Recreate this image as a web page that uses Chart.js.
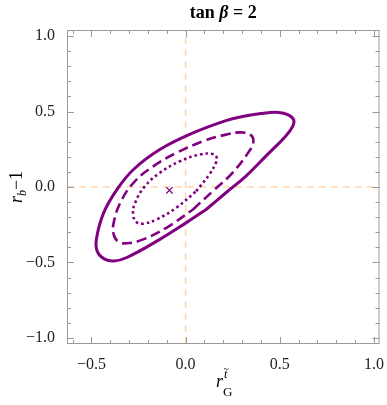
<!DOCTYPE html>
<html><head><meta charset="utf-8">
<script src="https://cdn.jsdelivr.net/npm/chart.js@4.4.0/dist/chart.umd.min.js"></script>
<style>html,body{margin:0;padding:0;background:#fff;overflow:hidden}#wrap{width:387px;height:405px}</style>
</head><body><div id="wrap"><canvas id="c" width="387" height="405"></canvas></div>
<script>
// ---- data ----
const xTickLabels = [-0.5, 0.0, 0.5, 1.0];
const yTickLabels = [-1.0, -0.5, 0.0, 0.5, 1.0];

// outer contour (solid)
const outerX = [0.109, 0.214, 0.319, 0.425, 0.530, 0.568, 0.574, 0.545, 0.495, 0.400, 0.302, 0.214, 0.039, -0.137, -0.277, -0.365, -0.435, -0.474, -0.468, -0.430, -0.380, -0.312, -0.137, 0.004, 0.109];
const outerY = [-0.149, -0.038, 0.071, 0.203, 0.335, 0.400, 0.445, 0.478, 0.494, 0.487, 0.467, 0.440, 0.358, 0.248, 0.116, -0.017, -0.170, -0.347, -0.430, -0.478, -0.490, -0.467, -0.347, -0.236, -0.149];

// middle contour (dashed)
const midX = [0.039, 0.144, 0.249, 0.337, 0.360, 0.345, 0.293, 0.214, 0.091, -0.049, -0.172, -0.277, -0.347, -0.382, -0.383, -0.360, -0.312, -0.225, -0.102, 0.039];
const midY = [-0.149, -0.028, 0.094, 0.236, 0.300, 0.345, 0.362, 0.347, 0.302, 0.226, 0.137, 0.028, -0.104, -0.236, -0.310, -0.360, -0.373, -0.347, -0.270, -0.149];

// inner contour (dotted)
const innerX = [0.056, 0.126, 0.161, 0.165, 0.144, 0.074, -0.032, -0.137, -0.216, -0.268, -0.279, -0.262, -0.225, -0.154, -0.049, 0.056];
const innerY = [-0.028, 0.083, 0.160, 0.195, 0.219, 0.215, 0.170, 0.094, 0.005, -0.104, -0.180, -0.232, -0.243, -0.215, -0.137, -0.028];

// best-fit point
const bestX = [-0.086];
const bestY = [-0.022];

// reference lines
const vLineX = [0, 0];
const vLineY = [-1.04, 1.04];
const hLineX = [-0.63, 1.03];
const hLineY = [0, 0];

const xRange = [-0.63, 1.03];
const yRange = [-1.04, 1.04];

// ---- build ----
const pts = (xs, ys) => xs.map((x, i) => ({x, y: ys[i]}));
const PURPLE = '#800080';
const PEACH = '#ffd6ad';
const FRAME = '#9a9a9a';
const SERIF = '"Liberation Serif", "DejaVu Serif", serif';

const framePlugin = {
  id: 'frame',
  afterDraw(chart) {
    const {ctx, chartArea: a, scales} = chart;
    const xs = scales.x, ys = scales.y;
    ctx.save();
    ctx.strokeStyle = FRAME;
    ctx.lineWidth = 1;
    ctx.strokeRect(a.left + 0.5, a.top + 0.5, a.right - a.left - 1, a.bottom - a.top - 1);
    ctx.beginPath();
    for (let k = -10; k <= 10; k++) {
      const v = k / 10;
      const major = Math.abs(k % 5) === 0;
      const len = major ? 7 : 4;
      if (v >= xRange[0] && v <= xRange[1]) {
        const px = Math.round(xs.getPixelForValue(v)) + 0.5;
        ctx.moveTo(px, a.bottom); ctx.lineTo(px, a.bottom - len);
        ctx.moveTo(px, a.top); ctx.lineTo(px, a.top + len);
      }
      if (v >= yRange[0] && v <= yRange[1]) {
        const py = Math.round(ys.getPixelForValue(v)) + 0.5;
        ctx.moveTo(a.left, py); ctx.lineTo(a.left + len, py);
        ctx.moveTo(a.right, py); ctx.lineTo(a.right - len, py);
      }
    }
    ctx.stroke();

    // title
    ctx.fillStyle = '#000';
    ctx.textBaseline = 'alphabetic';
    const parts = [['tan ', 'bold 18px ' + SERIF], ['\u03B2', 'bold italic 18px ' + SERIF], [' = 2', 'bold 18px ' + SERIF]];
    let tw = 0;
    parts.forEach(p => { ctx.font = p[1]; tw += ctx.measureText(p[0]).width; });
    let tx = (a.left + a.right) / 2 - tw / 2;
    parts.forEach(p => { ctx.font = p[1]; ctx.fillText(p[0], tx, 18); tx += ctx.measureText(p[0]).width; });

    // x axis label: r with superscript t~ and subscript G
    ctx.fillStyle = '#000';
    ctx.font = 'italic 18px ' + SERIF;
    const rW = ctx.measureText('r').width;
    ctx.font = '13px ' + SERIF;
    const gW = ctx.measureText('G').width;
    const totalW = rW + gW;
    const x0 = (a.left + a.right) / 2 - totalW / 2 + 1;
    ctx.font = 'italic 18px ' + SERIF;
    ctx.fillText('r', x0, 387);
    ctx.font = 'italic 12px ' + SERIF;
    ctx.fillText('t', x0 + rW + 1, 378);
    ctx.font = '10px ' + SERIF;
    ctx.fillText('~', x0 + rW + 0.5, 372);
    ctx.font = '13px ' + SERIF;
    ctx.fillText('G', x0 + rW, 396);

    // y axis label: r_b - 1 (rotated)
    ctx.translate(22, 187);
    ctx.rotate(-Math.PI / 2);
    ctx.font = 'italic 18px ' + SERIF;
    const r2 = ctx.measureText('r').width;
    ctx.font = 'italic 12px ' + SERIF;
    const bW = ctx.measureText('b').width;
    ctx.font = '18px ' + SERIF;
    const mW = ctx.measureText('\u22121').width;
    let lx = -(r2 + bW + mW) / 2;
    ctx.font = 'italic 18px ' + SERIF;
    ctx.fillText('r', lx, 0); lx += r2;
    ctx.font = 'italic 12px ' + SERIF;
    ctx.fillText('b', lx, 4); lx += bW;
    ctx.font = '18px ' + SERIF;
    ctx.fillText('\u22121', lx, 0);
    ctx.restore();
  }
};

const fmt = v => (v < 0 ? '\u2212' : '') + Math.abs(v).toFixed(1);

new Chart(document.getElementById('c'), {
  type: 'scatter',
  data: {
    datasets: [
      {data: pts(bestX, bestY), pointStyle: 'crossRot', pointRadius: 4.5, borderColor: PURPLE, backgroundColor: PURPLE, borderWidth: 1.2, showLine: false, order: 0},
      {data: pts(outerX, outerY), showLine: true, borderColor: PURPLE, borderWidth: 3, pointRadius: 0, tension: 0.4, fill: false, order: 1},
      {data: pts(midX, midY), showLine: true, borderColor: PURPLE, borderWidth: 2.6, borderDash: [10, 5], pointRadius: 0, tension: 0.4, fill: false, order: 2},
      {data: pts(innerX, innerY), showLine: true, borderColor: PURPLE, borderWidth: 2.6, borderDash: [2.6, 3], pointRadius: 0, tension: 0.4, fill: false, order: 3},
      {data: pts(vLineX, vLineY), showLine: true, borderColor: PEACH, borderWidth: 1.5, borderDash: [7, 5], pointRadius: 0, order: 10},
      {data: pts(hLineX, hLineY), showLine: true, borderColor: PEACH, borderWidth: 1.5, borderDash: [7, 5], pointRadius: 0, order: 11}
    ]
  },
  options: {
    responsive: false,
    devicePixelRatio: 1,
    animation: false,
    layout: {padding: {top: 30, right: 5, left: 0, bottom: 0}},
    plugins: {legend: {display: false}, tooltip: {enabled: false}, title: {display: false}},
    scales: {
      x: {
        type: 'linear', min: xRange[0], max: xRange[1],
        grid: {display: false}, border: {display: false},
        afterBuildTicks: s => { s.ticks = xTickLabels.map(v => ({value: v})); },
        afterFit: s => { s.height = 61; },
        ticks: {padding: 3, color: '#222', font: {family: SERIF, size: 16}, maxRotation: 0, callback: v => fmt(v)}
      },
      y: {
        type: 'linear', min: yRange[0], max: yRange[1],
        grid: {display: false}, border: {display: false},
        afterBuildTicks: s => { s.ticks = yTickLabels.map(v => ({value: v})); },
        afterFit: s => { s.width = 67; },
        ticks: {padding: 4, color: '#222', font: {family: SERIF, size: 16}, callback: v => fmt(v)}
      }
    }
  },
  plugins: [framePlugin]
});
</script></body></html>
